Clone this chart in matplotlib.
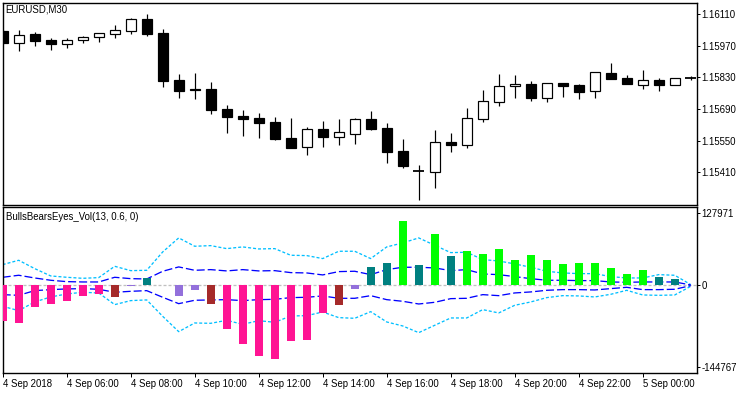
import matplotlib
matplotlib.use('Agg')
import matplotlib.pyplot as plt
from matplotlib.patches import Rectangle

plt.rcParams['font.family'] = ['Liberation Sans', 'DejaVu Sans']
plt.rcParams['lines.scale_dashes'] = False

# ---------------- data ----------------
symbol_title = "EURUSD,M30"
indicator_title = "BullsBearsEyes_Vol(13, 0.6, 0)"

opens  = [1.16035, 1.15983, 1.16022, 1.15995, 1.15979, 1.15994, 1.16008, 1.16020, 1.16036, 1.16088,
          1.16026, 1.15818, 1.15777, 1.15778, 1.15691, 1.15660, 1.15652, 1.15633, 1.15563, 1.15521,
          1.15602, 1.15568, 1.15581, 1.15646, 1.15606, 1.15504, 1.15414, 1.15413, 1.15544, 1.15532,
          1.15647, 1.15722, 1.15790, 1.15801, 1.15740, 1.15805, 1.15796, 1.15768, 1.15849, 1.15827,
          1.15797, 1.15818, 1.15797, 1.15827]
highs  = [1.16041, 1.16039, 1.16030, 1.16004, 1.16004, 1.16014, 1.16026, 1.16061, 1.16094, 1.16110,
          1.16044, 1.15845, 1.15850, 1.15809, 1.15709, 1.15687, 1.15674, 1.15656, 1.15652, 1.15612,
          1.15638, 1.15647, 1.15652, 1.15683, 1.15629, 1.15559, 1.15444, 1.15599, 1.15585, 1.15696,
          1.15775, 1.15846, 1.15840, 1.15814, 1.15805, 1.15805, 1.15801, 1.15854, 1.15895, 1.15840,
          1.15862, 1.15827, 1.15827, 1.15836]
lows   = [1.15977, 1.15948, 1.15970, 1.15952, 1.15961, 1.15983, 1.15988, 1.16005, 1.16023, 1.16014,
          1.15789, 1.15740, 1.15736, 1.15669, 1.15585, 1.15572, 1.15563, 1.15554, 1.15519, 1.15488,
          1.15523, 1.15532, 1.15537, 1.15599, 1.15453, 1.15431, 1.15289, 1.15342, 1.15501, 1.15519,
          1.15634, 1.15705, 1.15740, 1.15727, 1.15722, 1.15744, 1.15736, 1.15740, 1.15823, 1.15802,
          1.15780, 1.15771, 1.15797, 1.15818]
closes = [1.15983, 1.16019, 1.15992, 1.15979, 1.15994, 1.16008, 1.16026, 1.16039, 1.16088, 1.16023,
          1.15815, 1.15771, 1.15774, 1.15687, 1.15656, 1.15647, 1.15629, 1.15559, 1.15519, 1.15602,
          1.15568, 1.15588, 1.15646, 1.15603, 1.15501, 1.15439, 1.15414, 1.15543, 1.15532, 1.15650,
          1.15725, 1.15792, 1.15801, 1.15740, 1.15805, 1.15793, 1.15767, 1.15854, 1.15823, 1.15802,
          1.15818, 1.15797, 1.15827, 1.15827]

hist = [-62800, -66400, -38000, -32700, -27300, -18500, -14900, -20200, -1800, 13000,
        0, -18500, -7800, -32700, -77000, -103700, -125000, -130300, -98300, -96600,
        -48600, -34400, -6000, 32500, 39600, 114100, 36000, 91100, 52000, 60900,
        55600, 64400, 44900, 53800, 44900, 37800, 39600, 39600, 30700, 20100,
        27200, 14700, 11200, 0]
hist_kind = ['bear3'] * 7 + ['bear2', 'bear1', 'bull2', 'bull2', 'bear1', 'bear1', 'bear2'] + \
            ['bear3'] * 7 + ['bear2', 'bear1', 'bull2', 'bull2', 'bull3', 'bull2', 'bull3', 'bull2'] + \
            ['bull3'] * 12 + ['bull2', 'bull2', 'bull2']
kind_colors = {'bear3': '#FF1493', 'bear2': '#A52A2A', 'bear1': '#9370DB',
               'bull2': '#008080', 'bull3': '#00FF00'}

upper_outer = [36700, 44400, 29600, 16600, 14200, 12400, 13600, 33700, 26000, 26600,
               59200, 84100, 69300, 70400, 65100, 68100, 64500, 65100, 53300, 52700,
               47400, 60400, 60400, 47400, 68100, 75200, 84100, 71000, 58000, 58600,
               45600, 43200, 37900, 32000, 24900, 21900, 20700, 20700, 15400, 13000,
               13000, 18900, 17800, 1200]
upper_inner = [14200, 17800, 13000, 8900, 6500, 5900, 5900, 14200, 11800, 11200,
               24900, 32600, 26600, 27800, 25500, 27800, 25500, 26000, 22500, 21900,
               18400, 24300, 24900, 18900, 27800, 32000, 32000, 30800, 26000, 27800,
               20100, 18900, 15400, 11800, 8900, 8900, 8300, 8300, 5900, 5300,
               5900, 5900, 5900, 600]
lower_inner = [-16600, -17800, -9500, -7700, -6500, -5900, -7100, -12400, -10700, -9500,
               -21300, -32600, -26600, -26000, -25500, -27200, -25500, -24900, -21900, -21300,
               -18900, -23100, -23100, -18400, -25500, -28400, -33200, -30200, -23700, -23100,
               -16600, -18400, -13600, -11800, -8900, -7700, -7700, -8300, -5900, -3600,
               -7700, -7700, -7100, -600]
lower_outer = [-37300, -45000, -29600, -20700, -15400, -12400, -13600, -34300, -27200, -26000,
               -55100, -82300, -66900, -67500, -62200, -69300, -62800, -65700, -54500, -53900,
               -47400, -57400, -58600, -46800, -65100, -72200, -84100, -71000, -58000, -58000,
               -43200, -49100, -35500, -29600, -21900, -18400, -18900, -20700, -16000, -8900,
               -17200, -17800, -17200, -1800]

time_tick_idx = [0, 4, 8, 12, 16, 20, 24, 28, 32, 36, 40]
time_labels = ["4 Sep 2018", "4 Sep 06:00", "4 Sep 08:00", "4 Sep 10:00", "4 Sep 12:00",
               "4 Sep 14:00", "4 Sep 16:00", "4 Sep 18:00", "4 Sep 20:00", "4 Sep 22:00",
               "5 Sep 00:00"]
price_ticks = [1.16110, 1.15970, 1.15830, 1.15690, 1.15550, 1.15410]
ind_ticks = [127971, 0, -144767]

# ---------------- layout ----------------
W, H = 750, 394
PX = 72.0 / 100.0  # points per pixel
FS = 6.9

def rect(l, t, r, b):
    return [l / W, 1 - b / H, (r - l) / W, (b - t) / H]

fig = plt.figure(figsize=(W / 100, H / 100), dpi=100)
fig.patch.set_facecolor('white')
ax1 = fig.add_axes(rect(2.5, 2.5, 697.3, 205))
ax2 = fig.add_axes(rect(2.5, 206.7, 697.3, 373))

n = len(opens)
idx = list(range(n))
xlim = (-0.0125, 43.41)

# ---------------- price panel ----------------
body_w = 0.6
for i in idx:
    o, h, l, c = opens[i], highs[i], lows[i], closes[i]
    ax1.vlines(i, l, h, color='black', lw=1.0 * PX * 1.2, zorder=2)
    if abs(c - o) < 1e-7:
        ax1.hlines(o, i - body_w / 2 - 0.03, i + body_w / 2 + 0.03, color='black', lw=1.5 * PX * 1.2, zorder=3)
    else:
        fc = 'black' if c < o else 'white'
        ax1.add_patch(Rectangle((i - body_w / 2, min(o, c)), body_w, abs(c - o),
                                facecolor=fc, edgecolor='black', lw=1.0 * PX * 1.2, zorder=3))

ax1.set_xlim(*xlim)
ax1.set_ylim(1.152656, 1.161608)
ax1.yaxis.tick_right()
ax1.set_yticks(price_ticks)
ax1.set_yticklabels([f"{p:.5f}" for p in price_ticks])
ax1.set_xticks([])
ax1.tick_params(axis='y', direction='out', length=3 * PX, width=PX, pad=1, labelsize=FS, colors='black')
fig.text(5.5 / W, 1 - 10 / H, symbol_title, fontsize=FS, ha='left', va='center', color='black')

# ---------------- indicator panel ----------------
ax2.axhline(0, color='#C0C0C0', lw=1.0 * PX * 1.3, dashes=(3 * PX, 2 * PX), zorder=1)
ax2.plot(idx, upper_outer, color='#00BFFF', lw=PX * 1.3, dashes=(3 * PX, 2 * PX), zorder=2)
ax2.plot(idx, lower_outer, color='#00BFFF', lw=PX * 1.3, dashes=(3 * PX, 2 * PX), zorder=2)
ax2.plot(idx, upper_inner, color='#0000FF', lw=PX * 1.3, dashes=(8 * PX, 3 * PX), zorder=2)
ax2.plot(idx, lower_inner, color='#0000FF', lw=PX * 1.3, dashes=(8 * PX, 3 * PX), zorder=2)
ax2.bar(idx, hist, width=0.5, color=[kind_colors[k] for k in hist_kind], linewidth=0, zorder=3)

ax2.set_xlim(*xlim)
ax2.set_ylim(-155700, 139500)
ax2.yaxis.tick_right()
ax2.set_yticks(ind_ticks)
ax2.set_yticklabels([str(v) for v in ind_ticks])
ax2.tick_params(axis='y', direction='out', length=3 * PX, width=PX, pad=1, labelsize=FS, colors='black')
ax2.set_xticks(time_tick_idx)
ax2.set_xticklabels(time_labels)
for lab in ax2.get_xticklabels():
    lab.set_horizontalalignment('left')
ax2.tick_params(axis='x', direction='out', length=4 * PX, width=PX, pad=1.5, labelsize=FS, colors='black')
fig.text(5.5 / W, 1 - 216.5 / H, indicator_title, fontsize=FS, ha='left', va='center', color='black')

for ax in (ax1, ax2):
    ax.set_facecolor('white')
    for s in ax.spines.values():
        s.set_linewidth(1.0)
        s.set_color('black')

fig.savefig('out.png', dpi=100, facecolor='white')
